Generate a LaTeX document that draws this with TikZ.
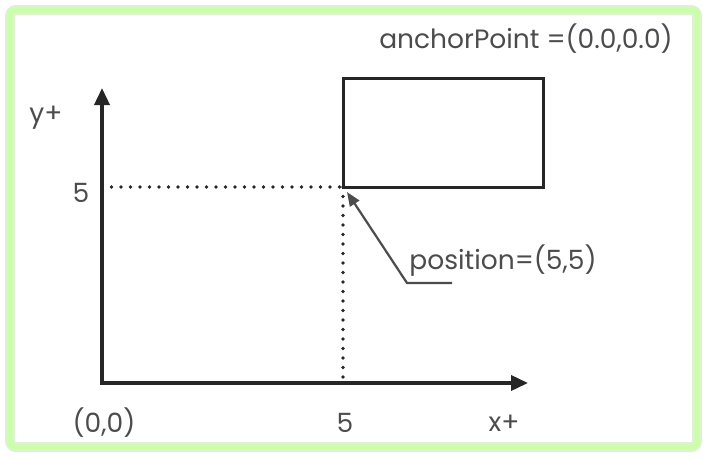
\documentclass[tikz,border=0pt]{standalone}
\usepackage{fontspec}
\setmainfont{Poppins}
\usepackage{tikz}
\usetikzlibrary{calc, arrows.meta, positioning}
\tikzset{
    textnode/.style  = {draw=none, fill=none, rectangle, inner sep = 0em, text=black!70, font=\fontsize{26.5}{28}\selectfont},
    dotnode/.style = {coordinate},
    axis/.style = {black!85, line width=3.6pt, -{Triangle[length=17pt, width=15pt]}},
    guide/.style = {black!85, line width=3.8pt, line cap=round, dash pattern=on 0pt off 9.5pt},
    leader/.style = {black!70, line width=2.2pt, -{Triangle[length=14pt, width=11pt]}},
    framebox/.style = {draw=green!45!lime!35, line width=5pt, rounded corners=4pt}
}
\definecolor{glow}{RGB}{220, 242, 210}

\begin{document}
\begin{tikzpicture}[x=1pt, y=-1pt]
    \useasboundingbox (0,0) rectangle (706,458);
    \fill[white] (0,0) rectangle (706,458);
    \draw[glow, line width=10pt, rounded corners=6pt] (10,10) rectangle (697,447);
    \draw[framebox] (10,10) rectangle (697,447);

    % axes
    \coordinate (origin) at (102,383);
    \coordinate (ytip) at (102,88);
    \coordinate (xtip) at (528,383);
    \draw[axis] (origin) -- (ytip);
    \draw[axis] ([xshift=-1.8pt]origin) -- (xtip);

    % box anchored at (5,5)
    \node [dotnode, name=pos] at (343,187) {};
    \draw[black!85, line width=3pt] (pos) rectangle (543,78);
    \coordinate (yfive) at (102,187);
    \coordinate (xfive) at (343,383);
    \draw[guide] (yfive) -- (pos);
    \draw[guide] (pos) -- (xfive);

    % labels
    \node [textnode, name=ylabel] at (46,118) {y+};
    \node [textnode, name=yval] at (81,193) {5};
    \node [textnode, name=olabel] at (104,423) {(0,0)};
    \node [textnode, name=xval] at (345,423) {5};
    \node [textnode, name=xlabel] at (504,423) {x+};
    \node [textnode, name=anchor] at (526,39) {anchorPoint =(0.0,0.0)};
    \node [textnode, name=poslabel] at (503,261) {position=(5,5)};

    \coordinate (bend) at (407,283);
    \coordinate (tail) at (452,283);
    \draw[leader] (tail) -- (bend) -- ([shift={(4,5)}]pos);
\end{tikzpicture}
\end{document}
